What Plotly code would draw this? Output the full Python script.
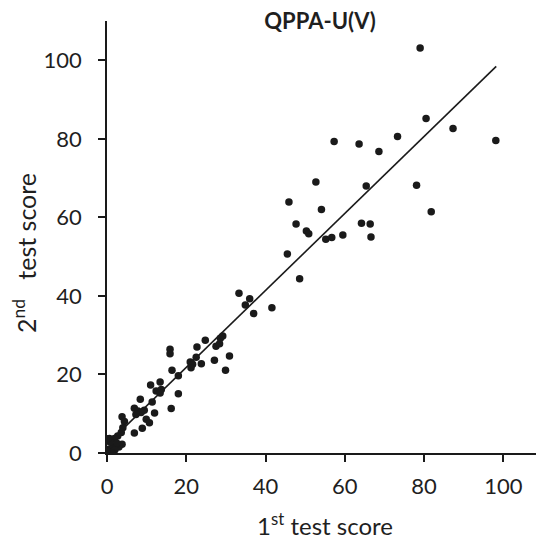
import plotly.graph_objects as go

# 1st test score (x) and 2nd test score (y)
first_score = [
    79.0, 80.5, 73.3, 87.3, 98.1, 78.1, 81.8, 68.6, 63.6, 57.3,
    65.4, 52.7, 45.9, 54.1, 47.7, 50.3, 50.9, 55.2, 56.7, 59.5,
    64.2, 66.4, 66.6, 45.5, 48.6, 33.3, 36.0, 34.9, 37.0, 41.6,
    15.9, 15.9, 22.7, 24.8, 28.6, 29.2, 27.5, 28.4, 22.5, 21.0,
    21.6, 23.8, 21.2, 27.1, 30.9, 29.9, 16.4, 18.0, 11.0, 13.4,
    12.4, 13.7, 13.4, 18.0, 8.4, 11.4, 16.2, 12.0, 6.9, 7.8,
    8.6, 9.4, 7.3, 9.9, 10.7, 8.9, 6.9, 3.8, 4.4, 4.0,
    3.6, 2.7, 1.9, 0.6, 3.8, 3.0,
    0.3, 0.5, 1.0, 1.5, 2.0, 2.5, 0.8, 1.2, 0.0, 0.2,
]
second_score = [
    103.1, 85.2, 80.6, 82.6, 79.6, 68.2, 61.4, 76.8, 78.7, 79.3,
    68.0, 69.0, 63.9, 62.0, 58.3, 56.5, 55.8, 54.4, 54.9, 55.5,
    58.5, 58.3, 55.0, 50.7, 44.4, 40.7, 39.3, 37.7, 35.5, 37.0,
    26.4, 25.3, 27.0, 28.7, 29.2, 29.8, 27.2, 27.8, 24.4, 23.2,
    22.6, 22.7, 21.7, 23.6, 24.7, 21.1, 21.1, 19.7, 17.3, 18.1,
    15.8, 16.2, 15.3, 15.1, 13.7, 13.0, 11.3, 10.2, 11.4, 10.7,
    10.3, 10.9, 9.8, 8.6, 7.7, 6.3, 5.1, 9.2, 8.0, 6.4,
    5.2, 4.3, 3.7, 3.7, 2.2, 1.5,
    0.2, 1.0, 0.5, 1.8, 0.8, 2.5, 2.8, 0.0, 0.5, 3.6,
]

# regression line
fit_slope = 0.98
fit_intercept = 2.2
fit_x = [0.0, 98.2]
fit_y = [fit_intercept + fit_slope * v for v in fit_x]

tick_values = [0, 20, 40, 60, 80, 100]

fig = go.Figure()
fig.add_trace(go.Scatter(
    x=fit_x, y=fit_y, mode="lines",
    line=dict(color="#1a1a1a", width=1.6),
    showlegend=False, hoverinfo="skip",
))
fig.add_trace(go.Scatter(
    x=first_score, y=second_score, mode="markers",
    marker=dict(color="#1a1a1a", size=7.5, line=dict(width=0)),
    showlegend=False,
))

# the page body adds an 8px offset, so the figure is 536px and margins compensate
fig_w, fig_h = 536, 536
font_family = "Lato, 'Open Sans', sans-serif"
text_color = "#1f1f1f"
fig.update_layout(
    width=fig_w, height=fig_h,
    margin=dict(l=99, r=1, t=13, b=91, autoexpand=False),
    paper_bgcolor="white", plot_bgcolor="white",
    font=dict(family=font_family, color=text_color),
    title=dict(
        text="<b>QPPA-U(V)</b>",
        x=312 / fig_w, xanchor="center",
        y=1 - 13 / fig_h, yanchor="middle",
        font=dict(size=22, family=font_family, color=text_color),
    ),
    annotations=[dict(
        text="2<sup>nd</sup>   test score",
        xref="paper", yref="paper",
        x=-0.188, y=0.463, xanchor="center", yanchor="middle",
        textangle=-90, showarrow=False,
        font=dict(size=25, color=text_color),
    )],
)
fig.update_xaxes(
    range=[0, 110], tickvals=tick_values, automargin=False,
    showline=True, linecolor="#1a1a1a", linewidth=1.5,
    ticks="outside", ticklen=7, tickwidth=1.5, tickcolor="#1a1a1a",
    showgrid=False, zeroline=False,
    tickfont=dict(size=22, color=text_color), ticklabelstandoff=6,
    title=dict(text="1<sup>st</sup> test score",
               font=dict(size=24, color=text_color), standoff=20),
)
fig.update_yaxes(
    range=[0, 110], tickvals=tick_values, automargin=False,
    showline=True, linecolor="#1a1a1a", linewidth=1.5,
    ticks="outside", ticklen=7, tickwidth=1.5, tickcolor="#1a1a1a",
    showgrid=False, zeroline=False,
    tickfont=dict(size=22, color=text_color), ticklabelstandoff=12,
)

fig.write_html("out.html")
